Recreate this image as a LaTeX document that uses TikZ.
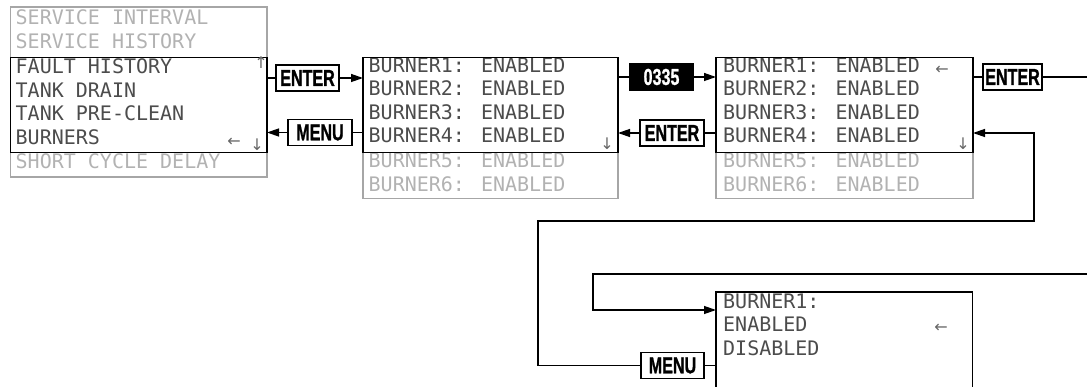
\documentclass[tikz,border=0pt]{standalone}
\usepackage{fontspec}
\usepackage{graphicx}
\usetikzlibrary{arrows.meta,calc}
\newfontfamily\lcdfont{DejaVu Sans Mono}
\newfontfamily\symfont{DejaVu Sans}
\newfontfamily\keyfont[FakeBold=1.2]{Liberation Sans}
\newcommand\keytxt[1]{\scalebox{0.7}[1]{#1}}
\tikzset{
  ext/.style={draw=black!35, line width=1.2pt, inner sep=0pt, outer sep=0pt, anchor=north west},
  win/.style={draw=black, line width=1.4pt, inner sep=0pt, outer sep=0pt, anchor=north west},
  row/.style={anchor=west, inner sep=0pt, text=black!70, font=\lcdfont\fontsize{20}{20}\selectfont},
  dim/.style={row, text=black!30},
  sym/.style={inner sep=0pt, text=black!60, font=\symfont\fontsize{16}{16}\selectfont},
  keybox/.style={draw=black, line width=1.3pt, fill=white, inner sep=0pt, outer sep=0pt,
    minimum height=26pt, font=\keyfont\bfseries\fontsize{23}{23}\selectfont},
  keyinv/.style={keybox, fill=black, text=white},
  conn/.style={line width=1.3pt},
  arr/.style={conn, -{Triangle[length=12pt,width=8pt]}},
}
\begin{document}
\begin{tikzpicture}[x=1pt,y=-1pt]
\useasboundingbox (0,0) rectangle (1087,387);

% ---------- screen 1 ----------
\node[ext, minimum width=256.5pt, minimum height=170pt] (s1ext) at (10.5,7) {};
\node[dim] (s1r1) at (15.5,17.5) {SERVICE INTERVAL};
\node[dim] (s1r2) at (15.5,41.5) {SERVICE HISTORY};
\node[row] (s1r3) at (15.5,66) {FAULT HISTORY};
\node[row] (s1r4) at (15.5,90) {TANK DRAIN};
\node[row] (s1r5) at (15.5,113.5) {TANK PRE-CLEAN};
\node[row] (s1r6) at (15.5,137.5) {BURNERS};
\node[dim] (s1r7) at (15.5,161) {SHORT CYCLE DELAY};
\node[win, minimum width=256.5pt, minimum height=95pt] (s1win) at (10.5,57.5) {};
\node[sym] (s1up) at (261,63) {↑};
\node[sym] (s1sel) at (234,142) {←};
\node[sym] (s1dn) at (257,145) {↓};

% ---------- screen 2 ----------
\node[ext, minimum width=255pt, minimum height=141pt] (s2ext) at (363,57.5) {};
\node[row] (s2r1) at (368.5,65) {BURNER1: ENABLED};
\node[row] (s2r2) at (368.5,88.5) {BURNER2: ENABLED};
\node[row] (s2r3) at (368.5,112) {BURNER3: ENABLED};
\node[row] (s2r4) at (368.5,135.5) {BURNER4: ENABLED};
\node[dim] (s2r5) at (368.5,160) {BURNER5: ENABLED};
\node[dim] (s2r6) at (368.5,184) {BURNER6: ENABLED};
\node[win, minimum width=255pt, minimum height=95pt] (s2win) at (363,57.5) {};
\node[sym] (s2dn) at (607,144) {↓};

% ---------- screen 3 ----------
\node[ext, minimum width=257pt, minimum height=141pt] (s3ext) at (716,57.5) {};
\node[row] (s3r1) at (723,65) {BURNER1: ENABLED};
\node[row] (s3r2) at (723,88.5) {BURNER2: ENABLED};
\node[row] (s3r3) at (723,112) {BURNER3: ENABLED};
\node[row] (s3r4) at (723,135.5) {BURNER4: ENABLED};
\node[dim] (s3r5) at (723,160) {BURNER5: ENABLED};
\node[dim] (s3r6) at (723,184) {BURNER6: ENABLED};
\node[win, minimum width=257pt, minimum height=95pt] (s3win) at (716,57.5) {};
\node[sym] (s3sel) at (942,70) {←};
\node[sym] (s3dn) at (963,144) {↓};

% ---------- screen 4 ----------
\node[win, minimum width=256.5pt, minimum height=110pt] (s4win) at (716,292) {};
\node[row] (s4r1) at (723,301) {BURNER1:};
\node[row] (s4r2) at (723,324.5) {ENABLED};
\node[row] (s4r3) at (723,348) {DISABLED};
\node[sym] (s4sel) at (941,328) {←};

% ---------- keys ----------
\node[keybox, minimum width=63pt] (kE1) at (307.5,78) {\keytxt{ENTER}};
\node[keybox, minimum width=64pt] (kM1) at (320,132.5) {\keytxt{MENU}};
\node[keyinv, minimum width=63pt] (k0335) at (661.5,77) {\keytxt{0335}};
\node[keybox, minimum width=64pt] (kE2) at (672,133) {\keytxt{ENTER}};
\node[keybox, minimum width=59pt] (kE3) at (1012.5,77) {\keytxt{ENTER}};
\node[keybox, minimum width=63pt] (kM2) at (672.5,365.5) {\keytxt{MENU}};

% ---------- connectors ----------
\draw[conn] (s1win.east |- kE1) -- (kE1.west);
\draw[arr] (kE1.east) -- (s2win.west |- kE1);

\draw[conn] (s2win.west |- kM1) -- (kM1.east);
\draw[arr] (kM1.west) -- (s1win.east |- kM1);

\draw[conn] (s2win.east |- k0335) -- (k0335.west);
\draw[arr] (k0335.east) -- (s3win.west |- k0335);

\draw[conn] (s3win.west |- kE2) -- (kE2.east);
\draw[arr] (kE2.west) -- (s2win.east |- kE2);

\coordinate (outR) at (1090,77);
\draw[conn] (s3win.east |- kE3) -- (kE3.west);
\draw[conn] (kE3.east) -- (outR);

\coordinate (L1) at (538,221);
\coordinate (R2) at (1034,133);
\draw[conn] (s4win.west |- kM2) -- (kM2.east);
\draw[arr] (kM2.west) -| (L1) -| (R2) -- (s3win.east |- R2);

\coordinate (inR) at (1090,274);
\coordinate (L2) at (593,274);
\coordinate (s4in) at (716,310);
\draw[arr] (inR) -- (L2) |- (s4in);
\end{tikzpicture}
\end{document}
